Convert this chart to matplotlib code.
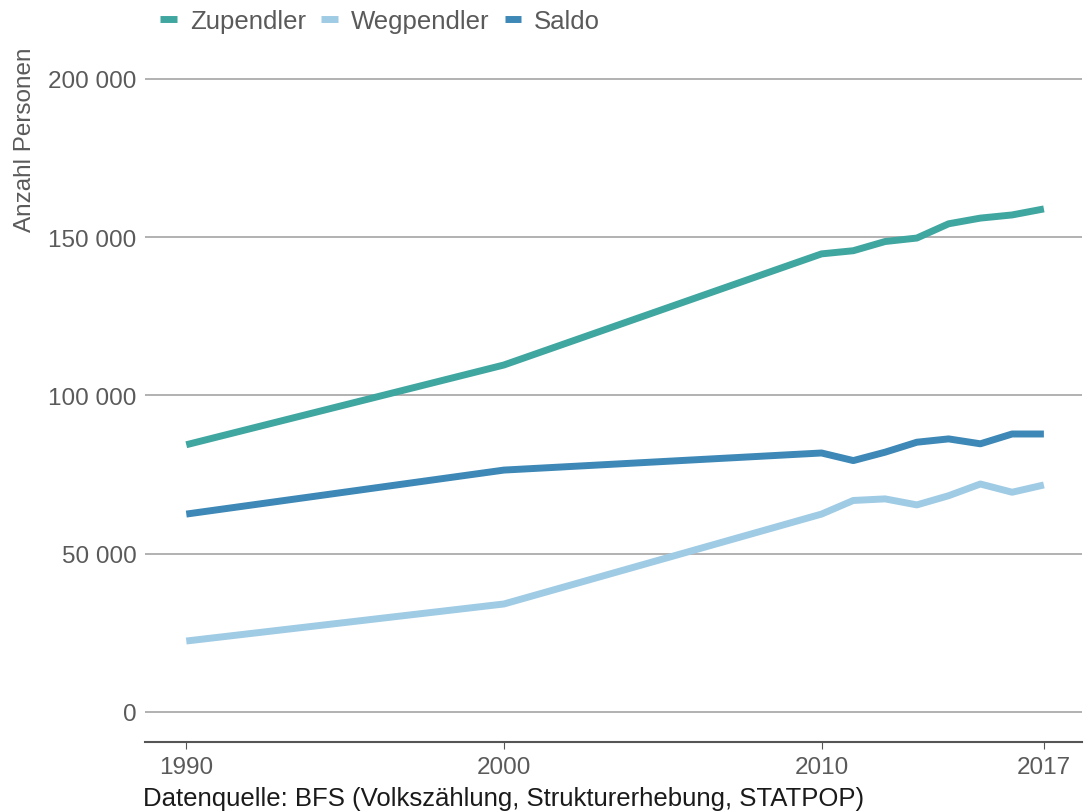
import matplotlib
matplotlib.use("Agg")
import matplotlib.pyplot as plt
from matplotlib.ticker import FuncFormatter

years = [1990, 2000, 2010, 2011, 2012, 2013, 2014, 2015, 2016, 2017]
zupendler = [84400, 109600, 144700, 145700, 148600, 149700, 154200, 156000, 157000, 158900]
wegpendler = [22400, 34100, 62500, 66800, 67300, 65400, 68300, 72000, 69400, 71700]
saldo = [62500, 76400, 81800, 79400, 82050, 85200, 86250, 84700, 87800, 87800]

series_names = ["Zupendler", "Wegpendler", "Saldo"]
colors = ["#40A6A0", "#9FCBE4", "#3D88B6"]
yticks = [0, 50000, 100000, 150000, 200000]
xticks = [1990, 2000, 2010, 2017]

plt.rcParams['font.family'] = ['Liberation Sans', 'DejaVu Sans']

fig = plt.figure(figsize=(10.84, 8.12), dpi=100)
ax = fig.add_axes([145/1084, 1 - 743/812, (1082-145)/1084, (743-45)/812])

for vals, name, c in zip([zupendler, wegpendler, saldo], series_names, colors):
    ax.plot(years, vals, color=c, lw=5, label=name, solid_capstyle='butt', solid_joinstyle='round')

ax.set_xlim(1988.7, 2018.2)
ax.set_ylim(-9500, 211000)
ax.set_yticks(yticks)
ax.set_xticks(xticks)
ax.yaxis.set_major_formatter(FuncFormatter(lambda v, p: f"{int(v):,}".replace(",", " ")))
ax.grid(axis='y', color='#ABABAB', lw=1.3)
ax.set_axisbelow(True)
for s in ['top', 'right', 'left']:
    ax.spines[s].set_visible(False)
ax.spines['bottom'].set_color('#555555')
ax.spines['bottom'].set_linewidth(1.5)
ax.tick_params(axis='y', length=0, labelsize=17.5, labelcolor='#5a5a5a', pad=6)
ax.tick_params(axis='x', length=5, color='#555555', labelsize=17.5, labelcolor='#5a5a5a', pad=5)

fig.text(25/1084, 1 - 47/812, "Anzahl Personen", rotation=90, va='top', ha='center',
         fontsize=17.5, color='#5a5a5a')
fig.text(143/1084, 1 - 799/812, "Datenquelle: BFS (Volkszählung, Strukturerhebung, STATPOP)",
         va='center', ha='left', fontsize=18.5, color='#1a1a1a')

fig.legend(loc='center left', bbox_to_anchor=(155/1084, 1 - 22/812), ncol=3, frameon=False,
           fontsize=18.5, handlelength=0.65, handletextpad=0.5, columnspacing=0.6,
           labelcolor='#5a5a5a', borderaxespad=0, borderpad=0.2)

fig.savefig("out.png", dpi=100)
